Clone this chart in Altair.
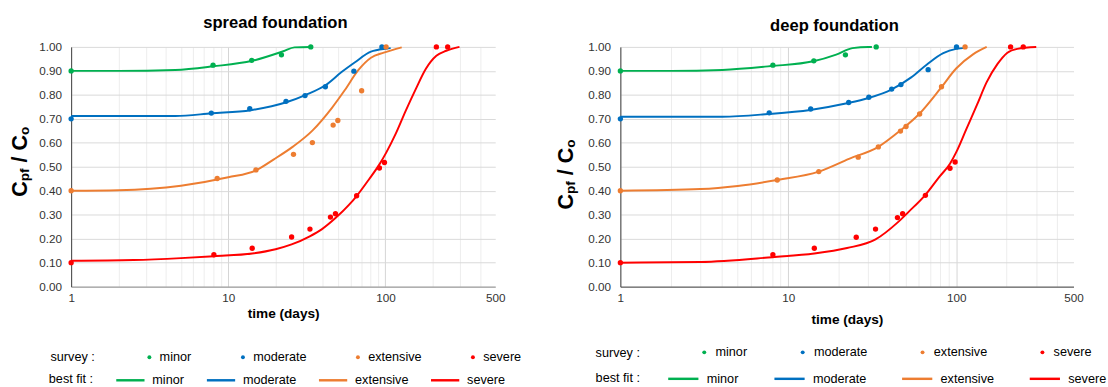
import altair as alt
import pandas as pd

FONT = "Liberation Sans"
LABEL_COLOR = "#333333"

levels = ["minor", "moderate", "extensive", "severe"]
colors = ["#00B050", "#0070C0", "#ED7D31", "#FF0000"]

x_tick_values = [1, 2, 3, 4, 5, 6, 7, 8, 9, 10, 20, 30, 40, 50, 60, 70, 80, 90,
                 100, 200, 300, 400, 500]
y_tick_values = [0.0, 0.1, 0.2, 0.3, 0.4, 0.5, 0.6, 0.7, 0.8, 0.9, 1.0]

# ---------------- spread foundation : survey points ----------------
sp_minor_t = [1, 8.0, 14.1, 21.8, 33.5]
sp_minor_v = [0.90, 0.924, 0.944, 0.967, 1.00]
sp_moderate_t = [1, 7.8, 13.7, 23.3, 30.8, 41.5, 63, 95]
sp_moderate_v = [0.70, 0.724, 0.742, 0.773, 0.797, 0.834, 0.899, 1.00]
sp_extensive_t = [1, 8.5, 15, 26, 34.3, 46.5, 49.8, 70.6, 101]
sp_extensive_v = [0.40, 0.451, 0.487, 0.552, 0.601, 0.674, 0.693, 0.817, 1.00]
sp_severe_t = [1, 8.1, 14.2, 25.3, 33.1, 44.7, 48.1, 65.6, 91.6, 98.6, 211, 249]
sp_severe_v = [0.10, 0.133, 0.160, 0.207, 0.240, 0.290, 0.304, 0.379, 0.495, 0.518, 1.00, 1.00]

# ---------------- spread foundation : best fit curves ----------------
spf_minor_t = [1, 2, 4.6, 8.0, 14.2, 22.4, 26.4, 33.5]
spf_minor_v = [0.90, 0.90, 0.904, 0.919, 0.942, 0.982, 0.998, 1.00]
spf_moderate_t = [1, 2, 4.6, 7.85, 13.9, 23.4, 31.2, 41.5, 52.6, 63.7, 80.9, 102.6, 108]
spf_moderate_v = [0.712, 0.712, 0.712, 0.723, 0.736, 0.769, 0.800, 0.840, 0.895, 0.935, 0.980, 0.993, 0.995]
spf_extensive_t = [1, 2, 5, 10, 15, 19.4, 25.8, 34.3, 45.7, 55.2, 66.8, 80.9, 97.7, 127]
spf_extensive_v = [0.40, 0.402, 0.421, 0.456, 0.485, 0.530, 0.584, 0.651, 0.746, 0.820, 0.901, 0.955, 0.976, 0.998]
spf_severe_t = [1, 2.5, 5, 8.1, 14.2, 20, 25.3, 33, 39.5, 48.3, 58.6, 65.6, 78.9, 91.6, 101,
                116.6, 134.6, 156, 181, 211, 244, 296]
spf_severe_v = [0.108, 0.111, 0.119, 0.127, 0.138, 0.156, 0.176, 0.210, 0.240, 0.287, 0.341,
                0.378, 0.449, 0.510, 0.558, 0.639, 0.733, 0.824, 0.909, 0.963, 0.984, 1.00]

# ---------------- deep foundation : survey points ----------------
dp_minor_t = [1, 8.1, 14.2, 21.9, 33.4]
dp_minor_v = [0.90, 0.924, 0.942, 0.967, 1.00]
dp_moderate_t = [1, 7.7, 13.6, 22.9, 30.2, 41.3, 46.9, 68.1, 100.5]
dp_moderate_v = [0.70, 0.725, 0.741, 0.768, 0.790, 0.824, 0.843, 0.905, 1.00]
dp_extensive_t = [1, 8.6, 15.2, 26.1, 34.4, 46.6, 50.3, 60.6, 81.8, 113]
dp_extensive_v = [0.40, 0.445, 0.480, 0.540, 0.583, 0.649, 0.668, 0.720, 0.834, 1.00]
dp_severe_t = [1, 8.1, 14.3, 25.4, 33.1, 44.7, 48, 65.6, 91.9, 98.6, 211, 251]
dp_severe_v = [0.10, 0.133, 0.160, 0.206, 0.240, 0.288, 0.304, 0.381, 0.494, 0.520, 1.00, 1.00]

# ---------------- deep foundation : best fit curves ----------------
dpf_minor_t = [1, 2, 4.05, 7.9, 14.1, 19.3, 24.1, 30.1, 31.5]
dpf_minor_v = [0.90, 0.90, 0.904, 0.920, 0.940, 0.968, 0.995, 1.00, 1.00]
dpf_moderate_t = [1, 2, 4.05, 7.56, 13.5, 22, 30.1, 41.1, 53.7, 67, 83.8, 100, 114]
dpf_moderate_v = [0.709, 0.709, 0.709, 0.720, 0.737, 0.764, 0.787, 0.822, 0.872, 0.927, 0.974, 0.992, 0.996]
dpf_extensive_t = [1, 3, 5, 8.57, 15.2, 23, 34.4, 45.9, 60, 80.9, 100, 126, 152]
dpf_extensive_v = [0.40, 0.407, 0.420, 0.445, 0.480, 0.533, 0.583, 0.648, 0.719, 0.828, 0.910, 0.969, 1.00]
dpf_severe_t = [1, 3, 8.07, 14.3, 22.4, 33.1, 44.7, 52.1, 65.6, 79.4, 91.9, 100, 115, 133, 152,
                176, 202, 231, 300]
dpf_severe_v = [0.10, 0.103, 0.123, 0.138, 0.161, 0.197, 0.267, 0.312, 0.383, 0.458, 0.513,
                0.560, 0.657, 0.758, 0.853, 0.928, 0.976, 0.992, 1.00]


def long_df(key, series):
    rows = []
    for lvl, (ts, vs) in zip(levels, series):
        for t, v in zip(ts, vs):
            rows.append({key: lvl, "t": t, "v": v})
    return pd.DataFrame(rows)


sp_pts = long_df("survey", [(sp_minor_t, sp_minor_v), (sp_moderate_t, sp_moderate_v),
                            (sp_extensive_t, sp_extensive_v), (sp_severe_t, sp_severe_v)])
sp_fit = long_df("fit", [(spf_minor_t, spf_minor_v), (spf_moderate_t, spf_moderate_v),
                         (spf_extensive_t, spf_extensive_v), (spf_severe_t, spf_severe_v)])
dp_pts = long_df("survey", [(dp_minor_t, dp_minor_v), (dp_moderate_t, dp_moderate_v),
                            (dp_extensive_t, dp_extensive_v), (dp_severe_t, dp_severe_v)])
dp_fit = long_df("fit", [(dpf_minor_t, dpf_minor_v), (dpf_moderate_t, dpf_moderate_v),
                         (dpf_extensive_t, dpf_extensive_v), (dpf_severe_t, dpf_severe_v)])

one = pd.DataFrame({"k": [0]})


def make_panel(pts, fit, width, height, title, title_x, title_y, yt_x, yt_y0, xt_y,
               xdomain_color, leg_s, leg_f, spacer=False):
    xscale = alt.Scale(type="log", domain=[1, 500], nice=False)
    yscale = alt.Scale(domain=[0, 1], nice=False, zero=False)
    xaxis = alt.Axis(
        values=x_tick_values, format="d",
        labelExpr="indexof([1, 10, 100, 500], datum.value) >= 0 ? datum.label : ''",
        ticks=False, tickSize=0, labelPadding=6, labelFont=FONT, labelFontSize=12,
        labelColor=LABEL_COLOR, labelFlush=False, labelOverlap=False,
        grid=True, gridWidth=1,
        gridColor={"condition": {"test": "indexof([1, 10, 100], datum.value) >= 0",
                                 "value": "#d4d4d4"}, "value": "#ececec"},
        gridOpacity={"condition": {"test": "datum.value == 500", "value": 0}, "value": 1},
        domainColor=xdomain_color, domainWidth=1,
        title="time (days)", titleFont=FONT, titleFontSize=14, titleFontWeight="bold",
        titleColor="black", titleY=xt_y, titleBaseline="middle",
    )
    yaxis = alt.Axis(
        values=y_tick_values, format=".2f", ticks=False, tickSize=0, labelPadding=10,
        labelFont=FONT, labelFontSize=12, labelColor=LABEL_COLOR, labelOverlap=False,
        grid=True, gridColor="#d9d9d9", gridWidth=1, domainColor="#404040", domainWidth=1,
        title=None,
    )
    x_enc = alt.X("t:Q", scale=xscale, axis=xaxis)
    y_enc = alt.Y("v:Q", scale=yscale, axis=yaxis)

    lines = alt.Chart(fit).mark_line(strokeWidth=2, interpolate="monotone").encode(
        x=x_enc, y=y_enc,
        stroke=alt.Stroke(
            "fit:N", sort=levels, scale=alt.Scale(range=colors),
            legend=alt.Legend(
                orient="none", legendX=leg_f[0], legendY=leg_f[1], direction="horizontal",
                title="best fit :", titleOrient="left", titleAnchor="middle",
                titleBaseline="line-top", titleLineHeight=leg_f[6], titleFont=FONT,
                titleFontSize=13, titleFontWeight="normal", titleColor="black",
                titlePadding=leg_f[2],
                labelFont=FONT, labelFontSize=13, labelColor="black", labelLimit=200,
                symbolType="stroke", symbolSize=leg_f[3], symbolStrokeWidth=2.5,
                columnPadding=leg_f[4], labelOffset=leg_f[5], padding=0,
            ),
        ),
    )
    points = alt.Chart(pts).mark_circle(size=30, opacity=1).encode(
        x=x_enc, y=y_enc,
        fill=alt.Fill(
            "survey:N", sort=levels, scale=alt.Scale(range=colors),
            legend=alt.Legend(
                orient="none", legendX=leg_s[0], legendY=leg_s[1], direction="horizontal",
                title="survey :", titleOrient="left", titleAnchor="middle",
                titleBaseline="middle", titleFont=FONT, titleFontSize=13,
                titleFontWeight="normal", titleColor="black", titlePadding=leg_s[2],
                labelFont=FONT, labelFontSize=13, labelColor="black", labelLimit=200,
                symbolType="circle", symbolSize=leg_s[3], symbolStrokeWidth=0,
                columnPadding=leg_s[4], labelOffset=leg_s[5], padding=0,
            ),
        ),
    )
    title_mark = alt.Chart(one).mark_text(
        text=title, font=FONT, fontSize=17, fontWeight="bold", align="center",
        baseline="alphabetic", color="black",
    ).encode(x=alt.value(title_x), y=alt.value(title_y))

    # y axis title  C_pf / C_o  (rotated, with subscripts)
    pieces = [("C", 22, 0, 0.0), ("pf", 14, 2, 15.88), ("/", 22, 0, 35.2),
              ("C", 22, 0, 47.4), ("o", 14, 2, 63.3)]
    ytitle = []
    for txt, size, shift, off in pieces:
        ytitle.append(
            alt.Chart(one).mark_text(
                text=txt, font=FONT, fontSize=size, fontWeight="bold", angle=270,
                align="left", baseline="alphabetic", color="black",
            ).encode(x=alt.value(yt_x + shift), y=alt.value(yt_y0 - off))
        )

    layers = [lines, points, title_mark] + ytitle
    if spacer:
        layers.insert(0, alt.Chart(one).mark_rect(color="white").encode(
            x=alt.value(-72.5), x2=alt.value(-71.5), y=alt.value(-43), y2=alt.value(-42)))
    return alt.layer(*layers).properties(width=width, height=height)


left = make_panel(
    sp_pts, sp_fit, 435.2, 246, "spread foundation", 209.6, -19, -45, 153.7, 27.7, "#8c8c8c",
    leg_s=(-21.2, 311.7, 49, 16, 46, 4),
    leg_f=(-22.9, 326.1, 21.7, 841, 17, 6.5, 7.2), spacer=True,
)
right = make_panel(
    dp_pts, dp_fit, 465, 246, "deep foundation", 219.7, -16.3, -49, 166.9, 34, "#404040",
    leg_s=(-25.4, 306.7, 59, 16, 50, 5),
    leg_f=(-25.4, 323.6, 27, 961, 31, 7, 9.2),
)

chart = alt.hconcat(left, right, spacing=127.6, bounds="flush").resolve_scale(
    x="independent", y="independent", fill="independent", stroke="independent"
).properties(padding=0, background="white").configure_view(strokeWidth=0)

chart.save("out.html", embed_options={"renderer": "svg", "actions": False})
